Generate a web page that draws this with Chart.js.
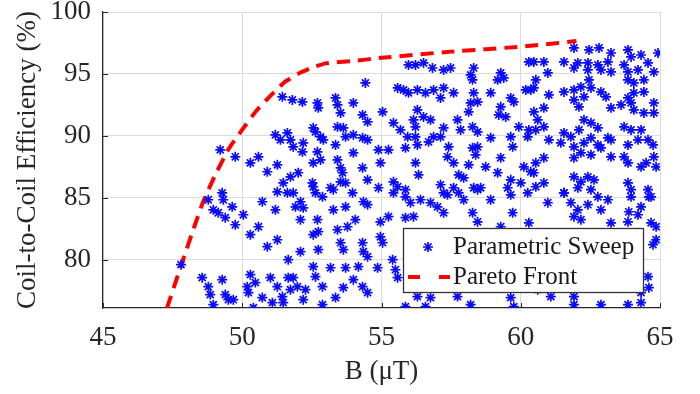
<!DOCTYPE html>
<html><head><meta charset="utf-8">
<script src="https://cdn.jsdelivr.net/npm/chart.js@4.4.1/dist/chart.umd.min.js"></script>
<style>html,body{margin:0;padding:0;background:#fff}#wrap{width:700px;height:394px}</style>
</head><body><div id="wrap"><canvas id="c" width="700" height="394"></canvas></div>
<script>
const xTicks = [45, 50, 55, 60, 65];
const yTicks = [80, 85, 90, 95, 100];
const xRange = [45, 65];
const yRange = [76.1, 100];
const legendLabels = ['Parametric Sweep', 'Pareto Front'];
const xTitle = 'B (\u03bcT)';
const yTitle = 'Coil-to-Coil Efficiency (%)';

const paretoPoints = [[47.3,76.1],[47.8,79.5],[48.3,82.8],[48.6,84.7],[49.0,86.7],[49.5,88.9],[50.0,90.5],[50.5,92.0],[51.0,93.2],[51.5,94.3],[52.0,95.0],[52.5,95.5],[53.0,95.85],[54.0,96.05],[55.0,96.3],[57.5,96.8],[60.0,97.2],[62.0,97.65]];

const sweepPoints = [
[48.78,84.84],[48.96,84.03],[49.14,83.79],[49.28,85.40],[49.32,84.84],[49.64,84.27],[49.39,83.39],[49.75,82.82],[50.04,83.63],[50.29,82.02],[50.58,82.66],[50.90,81.05],[51.26,81.61],[50.72,84.68],[51.19,84.03],
[48.56,78.55],[48.78,77.82],[48.85,77.18],[48.96,76.37],[49.28,78.39],[49.39,77.18],[49.50,76.77],[49.68,76.77],[50.29,78.79],[50.47,78.15],[50.22,77.34],[50.72,76.94],[50.40,76.13],[47.80,79.60],[50.18,77.82],[51.01,78.55],[51.26,77.82],[51.44,77.02],[51.47,76.53],[51.08,76.53],[51.65,78.55],[51.73,77.58],[51.65,80.00],
[51.44,93.15],[51.80,92.90],[52.16,92.74],[52.70,92.66],[52.73,92.26],[53.35,93.06],[53.42,92.50],[53.53,91.85],
[49.21,88.87],[49.75,88.31],[50.29,87.82],[50.58,88.31],[50.90,87.10],[51.26,87.66],
[51.19,90.08],[51.37,89.68],[51.62,90.24],[51.83,89.11],[51.73,89.68],[52.16,88.71],[52.19,89.44],[52.55,90.65],[52.81,89.92],[52.70,88.71],[52.55,87.82],[52.81,88.06],[53.42,90.73],[53.35,89.27],[53.42,88.06],[53.60,87.02],[53.53,86.29],[51.73,86.69],[52.01,87.02],[51.47,86.21],[51.26,85.48],[51.62,85.40],[52.55,85.89],[53.17,85.81],
[55.97,95.73],[54.42,94.27],[55.58,93.87],[55.79,93.71],[55.97,93.47],[53.99,92.66],[54.32,91.69],[54.50,91.13],[55.04,91.94],[55.43,91.05],[55.68,90.48],[55.94,89.92],[55.86,89.03],[56.15,91.29],[52.63,90.32],[52.91,89.68],[53.63,90.65],[53.71,89.92],[53.99,90.08],[54.32,89.84],[54.50,89.68],[53.99,88.63],[54.89,88.87],[55.25,88.87],[53.53,87.42],[54.32,87.42],[54.50,86.45],[54.96,87.82],[55.43,86.29],[55.58,85.89],[55.86,85.65],[52.52,86.21],[52.63,85.40],[53.71,86.21],[53.96,85.40],[54.89,85.81],
[56.22,95.73],[56.51,95.89],[56.83,95.48],[57.23,95.32],[57.48,95.48],[58.31,95.48],[58.20,94.92],[58.27,94.52],[59.28,95.08],[59.17,94.52],[59.39,94.68],[60.29,95.97],
[56.29,93.71],[56.58,93.47],[56.87,93.71],[57.23,93.87],[57.59,93.47],[57.12,93.06],[58.31,93.47],[58.20,92.66],[58.45,92.74],[58.13,91.94],[58.92,93.47],[59.28,92.34],[59.21,91.69],[59.46,91.53],[59.64,93.06],[59.75,92.74],[60.18,93.71],[60.36,93.71],
[56.29,92.10],[56.51,91.53],[56.22,90.73],[56.76,91.29],[57.23,90.65],[57.12,89.92],[57.73,91.29],[57.84,90.48],[58.27,90.73],[58.45,90.32],[56.22,89.92],[56.29,89.27],[56.69,89.52],[56.87,89.92],[58.92,89.84],[59.64,89.92],[59.71,89.11],[59.93,90.73],[60.29,90.48],[60.25,89.92],
[57.41,89.11],[57.37,88.31],[57.59,87.82],[58.27,89.03],[58.45,89.11],[58.38,88.47],[58.13,87.66],[59.28,88.23],[56.22,87.82],[56.33,86.85],[58.74,87.50],[57.12,86.05],[57.23,85.40],[57.59,85.81],[57.77,86.85],[57.95,86.61],[58.31,85.81],[58.56,85.81],[59.17,87.02],[59.64,86.45],[59.53,85.81],[60.00,86.21],[60.11,87.50],[60.36,87.10],
[61.91,97.10],[62.45,96.94],[62.81,97.10],[63.24,96.69],[63.85,96.94],[63.96,96.37],[64.32,96.53],[64.93,96.69],
[60.47,95.97],[60.83,95.97],[61.55,95.97],[62.05,95.89],[62.41,95.89],[62.77,95.73],[63.13,95.97],[61.91,95.48],[62.41,95.32],[62.88,95.32],[63.24,95.16],[63.71,95.73],[63.85,95.16],[64.21,95.32],[64.57,95.89],[64.78,95.16],
[60.97,95.08],[60.54,94.52],[60.47,93.87],[62.45,94.52],[62.52,93.87],[63.85,94.52],[64.06,94.27],[64.42,94.52],[61.55,93.55],[61.91,93.71],[62.16,93.95],[62.88,93.55],[63.06,93.15],[61.01,93.31],[60.83,92.26],[60.47,91.94],[60.61,91.29],[61.91,92.90],[62.09,92.34],[62.27,93.15],[63.24,92.26],[63.60,92.50],[63.85,93.06],[64.06,93.47],[64.42,93.55],[64.78,92.66],[64.78,91.85],[64.42,91.85],[64.06,92.10],[63.96,92.66],
[60.83,90.73],[60.54,90.48],[62.27,91.29],[62.52,91.05],[62.77,90.65],[63.13,89.84],[62.52,89.84],[62.09,90.48],[61.80,89.92],[61.55,90.24],[61.44,89.44],[61.91,89.11],[62.27,89.44],[62.77,89.27],[63.24,89.68],[62.16,88.63],[62.52,88.47],[62.88,89.03],[63.24,88.31],[61.91,88.23],[61.01,89.68],[63.71,90.73],[63.96,90.48],[63.85,89.27],[64.21,89.68],[64.57,89.68],[64.75,89.27],[64.32,90.48],
[60.83,88.23],[60.54,87.82],[60.47,87.02],[60.83,86.21],[60.54,85.89],[63.71,88.31],[63.85,87.82],[64.32,87.50],[64.78,88.31],[64.86,87.50],[64.50,87.82],[61.91,86.69],[62.16,86.29],[62.41,86.69],[62.63,86.45],[62.05,85.81],[62.52,85.65],[61.55,85.40],[63.85,86.21],[63.96,85.65],[64.57,85.65],[64.68,85.08],
[51.83,85.40],[52.09,84.68],[51.91,84.27],[52.88,85.08],[53.27,85.65],[54.35,84.68],[54.50,84.44],[52.19,84.19],[52.70,83.23],[52.09,83.23],[53.27,84.03],[53.71,84.27],[55.43,85.40],[55.86,85.08],[56.04,84.60],[55.86,83.39],[54.96,83.06],[55.25,83.47],[53.42,82.42],[53.78,82.66],[54.06,83.23],[52.55,82.02],[52.73,82.26],[54.96,81.85],[55.04,81.37],[53.53,81.37],[53.63,80.81],[54.32,81.37],[54.35,80.65],[54.50,80.24],[52.09,80.65],[52.73,80.81],
[52.55,79.44],[52.63,78.63],[53.17,79.35],[53.71,79.35],[54.17,79.44],[54.86,79.35],[55.40,80.00],[55.50,79.19],[55.58,78.55],[51.83,78.55],[51.98,77.82],[52.27,77.58],[52.88,77.82],[53.63,77.74],[53.35,76.94],[53.99,78.39],[54.32,77.82],[54.50,77.34],[52.88,76.37],[52.19,76.77],[55.86,76.21],
[56.40,84.84],[56.76,84.60],[57.01,84.27],[57.37,85.24],[57.77,85.40],[57.95,84.84],[58.45,85.65],[58.92,84.84],[59.64,85.24],[59.71,83.79],[60.25,85.40],[60.29,82.98],[58.27,83.79],[58.45,83.06],[59.28,82.66],[56.15,83.47],[57.23,83.79],
[56.29,77.02],[56.76,76.94],[56.58,76.21],[58.20,76.37],[59.64,76.94],[59.75,76.21],[57.73,77.02],
[60.97,84.60],[61.55,85.40],[61.80,84.60],[62.05,84.03],[62.41,84.44],[62.77,85.08],[63.13,84.84],[62.88,84.03],[62.16,83.23],[61.91,83.47],[63.24,82.98],[63.85,83.06],[64.21,83.63],[64.32,84.27],[64.60,85.08],[63.96,85.08],[63.88,83.87],[64.68,82.98],[64.86,82.66],[64.86,81.61],[64.75,81.21],
[64.57,78.63],[64.60,77.74],[64.32,77.34],[63.96,77.74],[61.08,77.02],[61.91,77.02],[61.91,76.37],[62.88,76.37],[63.85,76.37],[64.32,76.53],[60.61,77.58],
[57.50,81.00],[58.50,80.20],[60.00,81.50],[61.50,79.50],[62.80,80.80],[56.50,79.00]
];

const FONT = '"Liberation Serif", "Times New Roman", serif';
const INK = '#262626';
const STAR = {radius: 5, width: 1.7, color: '#0a0aff'};

const inwardTicks = {
  id: 'inwardTicks',
  afterDatasetsDraw(chart) {
    const {ctx, chartArea: a, scales: {x, y}} = chart;
    ctx.save();
    ctx.strokeStyle = INK; ctx.lineWidth = 1;
    ctx.beginPath();
    xTicks.forEach(v => { const px = Math.round(x.getPixelForValue(v)) + 0.5; ctx.moveTo(px, a.bottom); ctx.lineTo(px, a.bottom - 5); });
    yTicks.forEach(v => { const py = Math.round(y.getPixelForValue(v)) + 0.5; ctx.moveTo(a.left, py); ctx.lineTo(a.left + 5, py); });
    ctx.stroke();
    ctx.restore();
  }
};

const boxLegend = {
  id: 'boxLegend',
  afterDraw(chart) {
    const {ctx, chartArea: a} = chart;
    const w = 240, h = 64;
    const bx = a.right - 17 - w, by = a.bottom - 16 - h;
    ctx.save();
    ctx.fillStyle = '#ffffff';
    ctx.fillRect(bx, by, w, h);
    ctx.strokeStyle = '#333333'; ctx.lineWidth = 1.3;
    ctx.strokeRect(bx + 0.5, by + 0.5, w, h);
    const r1 = by + 19, r2 = by + 49;
    ctx.strokeStyle = STAR.color; ctx.lineWidth = STAR.width;
    Chart.helpers.drawPoint(ctx, {pointStyle: 'star', radius: STAR.radius, borderWidth: STAR.width, rotation: 0}, bx + 25, r1);
    ctx.strokeStyle = '#ff0000'; ctx.lineWidth = 4;
    ctx.setLineDash([12, 19]);
    ctx.beginPath(); ctx.moveTo(bx + 5, r2); ctx.lineTo(bx + 47, r2); ctx.stroke();
    ctx.setLineDash([]);
    ctx.fillStyle = '#1a1a1a';
    ctx.font = '25px ' + FONT;
    ctx.textBaseline = 'middle'; ctx.textAlign = 'left';
    ctx.fillText(legendLabels[0], bx + 50, r1);
    ctx.fillText(legendLabels[1], bx + 50, r2);
    ctx.restore();
  }
};

new Chart(document.getElementById('c'), {
  type: 'scatter',
  data: {
    datasets: [
      {
        label: legendLabels[0],
        data: sweepPoints.map(p => ({x: p[0], y: p[1]})),
        pointStyle: 'star', pointRadius: STAR.radius, pointBorderWidth: STAR.width,
        borderColor: STAR.color, backgroundColor: STAR.color, showLine: false
      },
      {
        label: legendLabels[1],
        data: paretoPoints.map(p => ({x: p[0], y: p[1]})),
        showLine: true, pointRadius: 0, borderColor: '#ff0000', backgroundColor: '#ff0000',
        borderWidth: 4, borderDash: [13, 8], fill: false, tension: 0.15
      }
    ]
  },
  options: {
    responsive: false, animation: false, devicePixelRatio: 1,
    layout: {padding: {left: 0, right: 40, top: 12, bottom: 0}},
    plugins: {legend: {display: false}, tooltip: {enabled: false}},
    scales: {
      x: {
        type: 'linear', min: xRange[0], max: xRange[1],
        afterBuildTicks(s) { s.ticks = xTicks.map(v => ({value: v})); },
        afterFit(s) { s.height = 86; s.paddingLeft = 0; s.paddingRight = 0; },
        ticks: {font: {family: FONT, size: 27}, color: INK, padding: 14, maxRotation: 0},
        grid: {color: '#dcdcdc', drawTicks: false, lineWidth: 1},
        border: {color: INK, width: 1.2},
        title: {display: true, text: xTitle, font: {family: FONT, size: 27}, color: INK, padding: {top: 0, bottom: 6}}
      },
      y: {
        type: 'linear', min: yRange[0], max: yRange[1],
        afterBuildTicks(s) { s.ticks = yTicks.map(v => ({value: v})); },
        afterFit(s) { s.width = 103; s.paddingTop = 0; s.paddingBottom = 0; },
        ticks: {font: {family: FONT, size: 27}, color: INK, padding: 12},
        grid: {color: '#dcdcdc', drawTicks: false, lineWidth: 1},
        border: {color: INK, width: 1.2},
        title: {display: true, text: yTitle, font: {family: FONT, size: 27}, color: INK, padding: {top: 12, bottom: 0}}
      }
    }
  },
  plugins: [inwardTicks, boxLegend]
});
</script></body></html>
